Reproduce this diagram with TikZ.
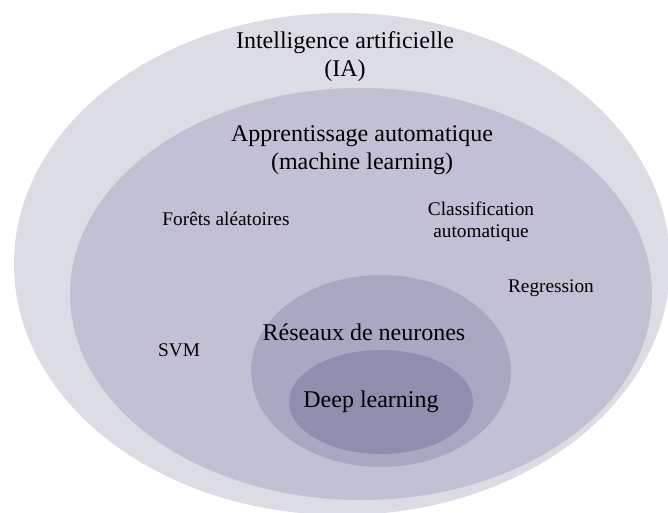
\documentclass[tikz,border=0pt]{standalone}
\usepackage{fontspec}
\setmainfont{Liberation Serif}
\definecolor{cOuter}{HTML}{DCDCE5}
\definecolor{cML}{HTML}{C1C0D4}
\definecolor{cNN}{HTML}{A9A8C3}
\definecolor{cDL}{HTML}{8F8EAE}
\begin{document}
\begin{tikzpicture}[x=1pt,y=-1pt,
  big/.style={font=\fontsize{24}{28}\selectfont, align=center, inner sep=0pt},
  small/.style={font=\fontsize{19.3}{22}\selectfont, align=center, inner sep=0pt}]
\useasboundingbox (0,0) rectangle (668,513);
\clip (0,0) rectangle (668,513);
\fill[cOuter] (342,264) ellipse [x radius=328, y radius=251];
\fill[cML] (361,294) ellipse [x radius=291, y radius=206];
\fill[cNN] (381,371) ellipse [x radius=130, y radius=96];
\fill[cDL] (381,402) ellipse [x radius=92, y radius=52];
\node[big] (ia) at (345,57) {Intelligence artificielle\\(IA)};
\node[big] (ml) at (362,150) {Apprentissage automatique\\(machine learning)};
\node[small] (rf) at (226,219) {Forêts aléatoires};
\node[small] (cl) at (481,222) {Classification\\automatique};
\node[small] (rg) at (551,288) {Regression};
\node[small] (svm) at (179,350) {SVM};
\node[big] (nn) at (364,332) {Réseaux de neurones};
\node[big] (dl) at (371,402) {Deep learning};
\end{tikzpicture}
\end{document}
